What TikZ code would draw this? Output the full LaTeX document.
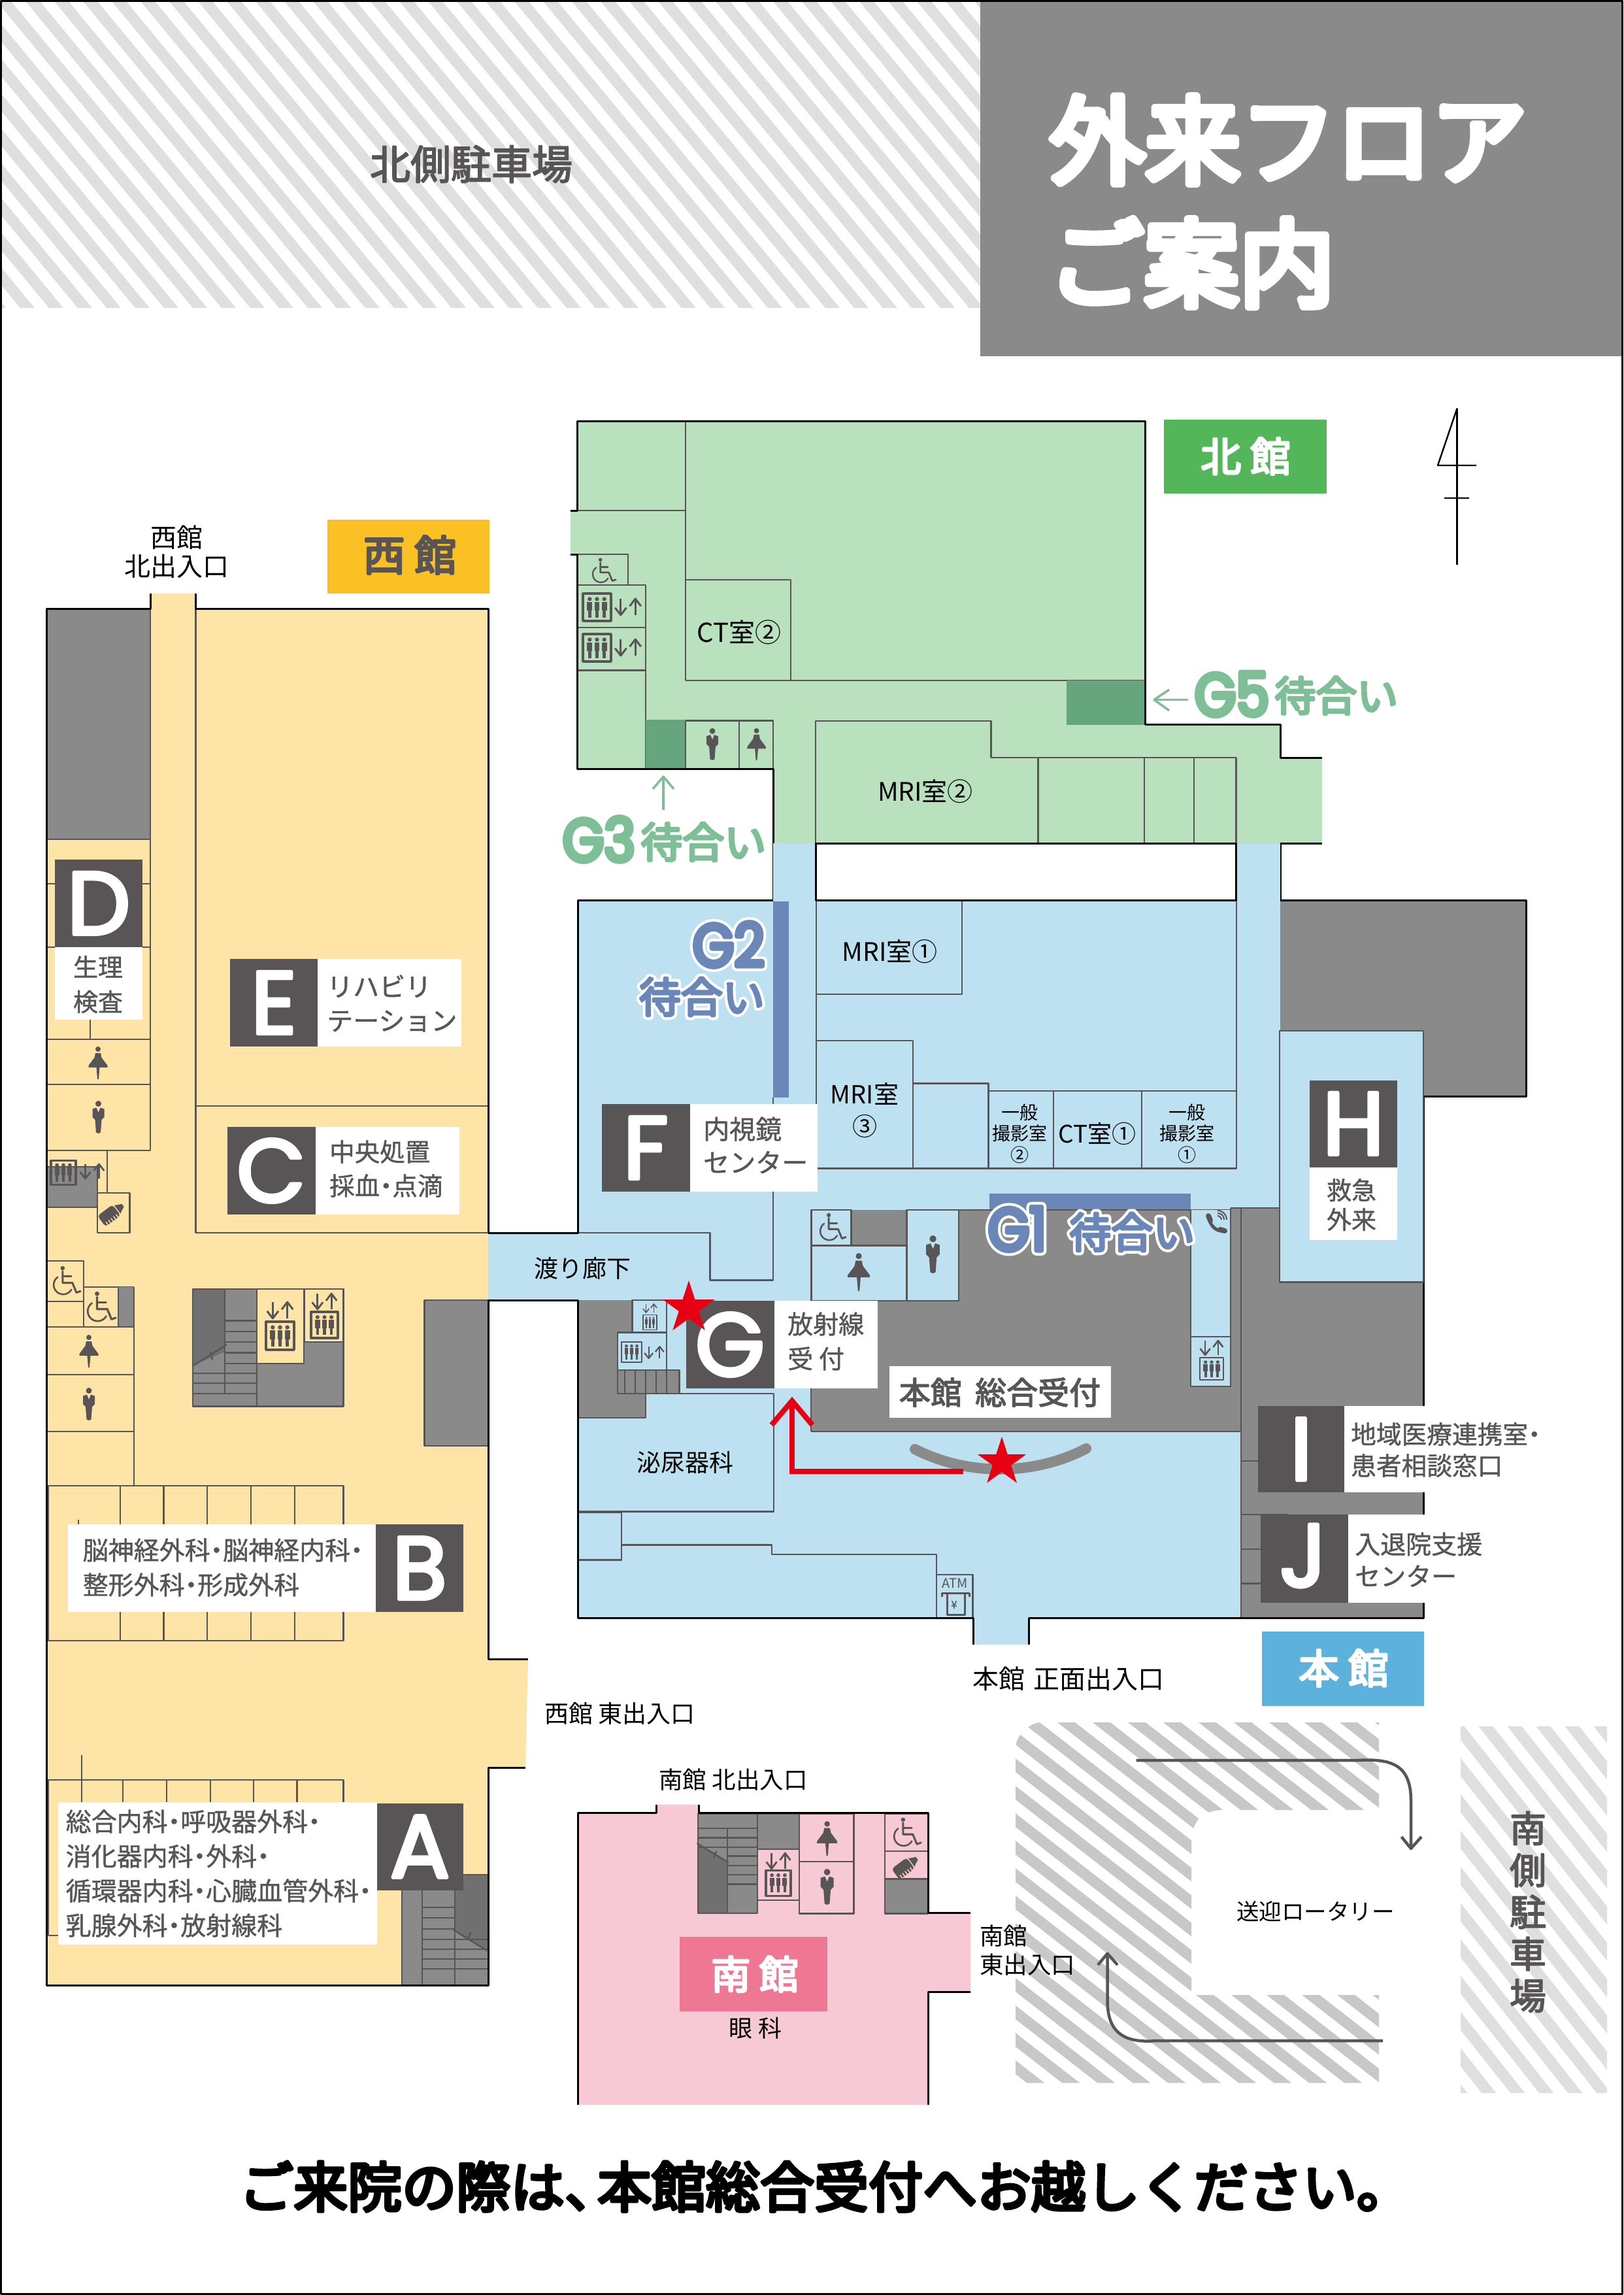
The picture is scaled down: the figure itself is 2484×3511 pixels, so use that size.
\documentclass[tikz,border=0pt]{standalone}
\usepackage{fontspec}
\usetikzlibrary{shapes.geometric}
\setmainfont{Noto Sans CJK JP}
\newfontfamily\jpr{Noto Sans CJK JP}
\newfontfamily\jpm[FakeBold=1]{Noto Sans CJK JP}
\newfontfamily\jpn[FakeBold=3]{Noto Sans CJK JP}
\newfontfamily\jpl[FakeBold=5]{Noto Sans CJK JP}
\newfontfamily\jpw[FakeBold=6]{Noto Sans CJK JP}
\newfontfamily\jpt[FakeBold=8]{Noto Sans CJK JP}
\newfontfamily\jpo[FakeBold=19]{Noto Sans CJK JP}
\newfontfamily\ltr[FakeBold=4]{Poppins}
\newfontfamily\ltrg[FakeBold=8,FakeStretch=.88]{Poppins}
\newfontfamily\ltro[FakeBold=17,FakeStretch=.88]{Poppins}
\newcommand{\fs}[2]{\fontsize{#1}{#2}\selectfont}
\newcommand{\nk}{\kern-.25em ・\kern-.25em }
\definecolor{yel}{HTML}{FEE4A6}
\definecolor{yell}{HTML}{FBC024}
\definecolor{grn}{HTML}{B9E1BD}
\definecolor{grnd}{HTML}{66A67E}
\definecolor{grnl}{HTML}{53B659}
\definecolor{grnt}{HTML}{7FBF97}
\definecolor{blu}{HTML}{BDE1F0}
\definecolor{blud}{HTML}{6A87B8}
\definecolor{blul}{HTML}{5CB2DC}
\definecolor{pnk}{HTML}{F7C9D4}
\definecolor{pnkl}{HTML}{EE7893}
\definecolor{gry}{HTML}{8A8A8A}
\definecolor{gryd}{HTML}{707070}
\definecolor{drk}{HTML}{595556}
\definecolor{hat}{HTML}{C8C8C8}
\definecolor{hatl}{HTML}{DFDFDF}
\definecolor{redm}{HTML}{E60012}
\tikzset{
  wall/.style={draw=black,line width=3},
  room/.style={draw=drk,line width=2.4},
  grayroom/.style={fill=gry,draw=drk,line width=2.4},
  ticon/.style={fill=drk},
  licon/.style={draw=drk,line cap=round},
  tblack/.style={text=black,inner sep=0,align=center},
  tdark/.style={text=drk,inner sep=0,align=left},
  letter/.style={text=white,inner sep=0,font=\ltr\fs{136}{136}},
  redstar/.style={star,star points=5,star point ratio=2.618,fill=redm,inner sep=0},
  darkbox/.style={fill=drk},
  whitebox/.style={fill=white},
}
% stripes: color, x at ytop, width, period, ytop, ybot, dx/dy, kmin, kmax
\newcommand{\stripes}[9]{%
  \foreach \k in {#8,...,#9}{%
    \pgfmathsetmacro{\xa}{#2+\k*#4}%
    \pgfmathsetmacro{\xb}{\xa+#3}%
    \pgfmathsetmacro{\sh}{(#6-#5)*#7}%
    \fill[#1] (\xa,#5)--(\xb,#5)--(\xb+\sh,#6)--(\xa+\sh,#6)--cycle;
  }}
\newcommand{\manicon}[3]{\begin{scope}[shift={(#1,#2)},x=#3pt,y=-#3pt]
  \fill[ticon] (0,.09) circle[radius=.09];
  \fill[ticon] (-.18,.25)--(-.06,.21)--(0,.36)--(.06,.21)--(.18,.25)--(.18,.5)--(.1,.58)--(.07,.97)--(0,1)--(-.07,.97)--(-.1,.58)--(-.18,.5)--cycle;
\end{scope}}
\newcommand{\womanicon}[3]{\begin{scope}[shift={(#1,#2)},x=#3pt,y=-#3pt]
  \fill[ticon] (0,.08) circle[radius=.08];
  \fill[ticon] (-.08,.2)--(.08,.2)--(.11,.34)--(.29,.58)--(.29,.64)--(.05,.64)--(.02,1)--(-.02,1)--(-.05,.64)--(-.29,.64)--(-.29,.58)--(-.11,.34)--cycle;
\end{scope}}
\newcommand{\wheelicon}[3]{\begin{scope}[shift={(#1,#2)},x=#3pt,y=-#3pt]
  \fill[ticon] (.36,.07) circle[radius=.075];
  \draw[licon,line width=#3*.07pt] (.36,.18)--(.36,.58)--(.7,.58)--(.84,.92)--(.98,.87);
  \draw[licon,line width=#3*.07pt] (.36,.36)--(.66,.36);
  \draw[licon,line width=#3*.06pt] (.19,.38) arc[start angle=235,end angle=30,radius=.33];
\end{scope}}
\newcommand{\elevbox}[4]{\begin{scope}[shift={(#1,#2)},x=#3pt,y=-#4pt]
  \draw[draw=drk,line width=#3*.08pt] (0,0) rectangle (1,1);
  \foreach \u in {.24,.5,.76}{
    \fill[ticon] (\u,.2) circle[radius=.075];
    \fill[ticon] (\u-.09,.3) rectangle (\u+.09,.62);
    \fill[ticon] (\u-.055,.62) rectangle (\u+.055,.88);
  }
\end{scope}}
\newcommand{\elevarrows}[4]{\begin{scope}[shift={(#1,#2)},x=#3pt,y=-#4pt]
  \draw[draw=drk,line width=#3*.07pt] (.24,0)--(.24,.95);
  \draw[draw=drk,line width=#3*.07pt] (.04,.55)--(.24,1)--(.44,.55);
  \draw[draw=drk,line width=#3*.07pt] (.76,1)--(.76,.05);
  \draw[draw=drk,line width=#3*.07pt] (.56,.45)--(.76,0)--(.96,.45);
\end{scope}}
\newcommand{\bottleicon}[3]{\begin{scope}[shift={(#1,#2)},x=#3pt,y=-#3pt,rotate=37]
  \fill[ticon,rounded corners=#3*.12pt] (-.52,-.26) rectangle (.2,.26);
  \fill[ticon] (.24,-.2)--(.36,-.13)--(.5,-.07)--(.5,.07)--(.36,.13)--(.24,.2)--cycle;
  \foreach \u in {-.4,-.28,-.16,-.04,.08}{\draw[draw=yel,line width=#3*.035pt] (\u,.27)--(\u,.12);}
\end{scope}}
\begin{document}
\begin{tikzpicture}[x=1pt,y=-1pt,line join=round]
\useasboundingbox (0,0) rectangle (2484,3511);
\fill[white] (0,0) rectangle (2484,3511);
% north parking
\begin{scope}
  \clip (2,2) rectangle (1500,471);
  \stripes{hatl}{919}{22}{44}{2}{471}{.827}{-30}{14}
\end{scope}
\node[text=drk,inner sep=0,font=\jpn\fs{62}{62}] (npark) at (721,251) {北側駐車場};
% title
\fill[gry] (1500,0) rectangle (2484,545);
\node[text=white,inner sep=0,anchor=west,font=\jpt\fs{146}{146}] (title1) at (1606,214) {外来フロア};
\node[text=white,inner sep=0,anchor=west,font=\jpt\fs{146}{146}] (title2) at (1604,402) {ご案内};
% north arrow
\coordinate (na1) at (2229.6,624.6);
\coordinate (na2) at (2229.6,864);
\draw[line width=2.4] (na1)--(na2);
\draw[line width=2.4] (na1)--(2200,712)--(2259,712);
\draw[line width=1.6] (2210,762)--(2248,762);

%%%%%%%% WEST
\fill[yel] (71,931)--(230,931)--(230,908)--(299.5,908)--(299.5,931)--(747,931)--(747,2538)--(808,2538)--(804,2704)--(747,2704)--(747,3037)--(71,3037)--cycle;
\fill[gry] (71,931) rectangle (230,1284);
\draw[room] (71,1284)--(230,1284);
\draw[room] (230,931)--(230,1760)--(71,1760);
\draw[room] (299.5,931)--(299.5,1886)--(747,1886);
\draw[room] (299.5,1692)--(747,1692);
\draw[room] (71,1352)--(230,1352);
\draw[room] (71,1449)--(230,1449);
\draw[room] (71,1590)--(230,1590);
\draw[room] (138,1560)--(138,1590);
\draw[room] (71,1659)--(230,1659);
\womanicon{150}{1601}{50}
\manicon{150.5}{1684}{50}
\draw[room] (164,1760)--(164,1825);
\draw[grayroom] (71,1785) rectangle (149,1847);
\draw[room] (149,1825) rectangle (198.5,1886);
\bottleicon{172}{1856}{40}
\elevbox{78}{1775}{38}{37}
\elevarrows{121}{1781}{40}{22}
% wheelchair and toilets
\draw[room] (71,1929)--(128,1929)--(128,2030);
\draw[room] (71,1991)--(128,1991);
\draw[room] (128,1969)--(205,1969);
\fill[gry] (181,1969) rectangle (205,2030);
\draw[room] (181,1969)--(181,2030);
\draw[room] (205,1969)--(205,2273);
\draw[room] (71,2030)--(205,2030);
\draw[room] (71,2103)--(205,2103);
\draw[room] (71,2190)--(205,2190);
\wheelicon{80}{1937}{44}
\wheelicon{132}{1976}{46}
\womanicon{136}{2042}{50}
\manicon{136}{2123}{50}
% central stairs
\fill[gry] (295,1972) rectangle (525.5,2151.6);
\fill[gryd] (295,1972)--(344,1972)--(344,2068)--(295,2089)--cycle;
\foreach \yy in {2020.5,2037,2053,2069.5,2086,2101,2116,2132}{\draw[room] (344,\yy)--(393,\yy);}
\foreach \yy in {2101,2116,2132}{\draw[room] (295,\yy)--(344,\yy);}
\draw[room] (344,1972)--(344,2132);
\draw[room] (296,2089)--(347,2057);
\draw[room] (322,2068)--(325,2080);
\draw[room] (295,1972) rectangle (525.5,2151.6);
\draw[room] (393,1972)--(393,2151.6);
\draw[room,fill=yel] (393,1972) rectangle (465,2086);
\draw[room,fill=yel] (466,1972) rectangle (525.5,2053);
\elevbox{407}{2022}{43}{43}
\elevarrows{407}{1992}{43}{25}
\elevbox{476}{2007}{41}{40}
\elevarrows{476}{1979}{41}{24}
% east gray
\draw[grayroom] (649.5,1989) rectangle (747,2212);
% B rooms
\draw[room] (73.5,2273) rectangle (525.5,2510);
\foreach \xx in {184,250.5,317,384,451}{\draw[room] (\xx,2273)--(\xx,2510);}
\draw[room] (120,2325)--(120,2340);
% A rooms
\draw[room] (73.5,2961)--(73.5,2723)--(525.5,2723)--(525.5,2760);
\draw[room] (73.5,2961)--(110,2961);
\foreach \xx in {188,255,322,388,454.6}{\draw[room] (\xx,2723)--(\xx,2760);}
\draw[room] (125,2685)--(125,2760);
% A stairs
\fill[gry] (615,2868) rectangle (747,3037);
\fill[gryd] (696,2868)--(747,2868)--(747,2984)--(696,2953)--cycle;
\draw[room] (615,2868)--(747,2868);
\draw[room] (615,2868)--(615,3037);
\foreach \yy in {2918,2934,2951,2967,2982,2997,3012}{\draw[room] (646,\yy)--(696,\yy);}
\foreach \yy in {2967,2982,2997,3012}{\draw[room] (696,\yy)--(747,\yy);}
\draw[room] (646,2868)--(646,3037);
\draw[room] (696,2868)--(696,3037);
\draw[room] (694,2952.6)--(745,2984);
\draw[room] (716,2968)--(720,2956);
% walls
\draw[wall] (747,1886)--(747,931)--(299.5,931)--(299.5,908);
\draw[wall] (230,908)--(230,931)--(71,931)--(71,3037)--(747,3037)--(747,2704)--(804,2704);
\draw[wall] (808,2538)--(747,2538)--(747,1989);
% west texts
\node[tblack,font=\jpr\fs{40}{44}] (wnorth) at (270,844) {西館\\北出入口};
\fill[yell] (500.5,795) rectangle (749,908);
\node[text=drk,inner sep=0,font=\jpl\fs{64}{64}] (wlabel) at (627,849) {西 館};
% D
\fill[darkbox] (84,1315) rectangle (218,1449);
\fill[whitebox] (84,1449) rectangle (218,1560);
\node[letter] (lD) at (151,1382) {D};
\node[tdark,align=center,font=\jpm\fs{38}{53}] (tD) at (150,1506) {生理\\検査};
% E
\fill[darkbox] (351.5,1467) rectangle (486,1601);
\fill[whitebox] (486,1467) rectangle (706,1601);
\node[letter] (lE) at (419,1534) {E};
\node[tdark,anchor=west,font=\jpm\fs{40}{52}] (tE) at (500,1535) {リハビリ\\テーション};
% C
\fill[darkbox] (348,1724) rectangle (483,1858);
\fill[whitebox] (483,1724) rectangle (702.5,1858);
\node[letter] (lC) at (415,1791) {C};
\node[tdark,anchor=west,font=\jpm\fs{38.5}{52}] (tC) at (504,1788) {中央処置\\採血\nk 点滴};
% B
\fill[whitebox] (103.6,2332) rectangle (574.5,2466);
\fill[darkbox] (574.5,2332) rectangle (709,2466);
\node[letter] (lB) at (642,2399) {B};
\node[tdark,anchor=west,font=\jpm\fs{39}{53}] (tB) at (126.5,2398) {脳神経外科\nk 脳神経内科\nk\\整形外科\nk 形成外科};
% A
\fill[whitebox] (89,2757) rectangle (576.5,2975);
\fill[darkbox] (576.5,2758.5) rectangle (709,2892);
\node[letter] (lA) at (642.5,2825) {A};
\node[tdark,anchor=west,font=\jpm\fs{39}{53}] (tA) at (100.5,2866) {総合内科\nk 呼吸器外科\nk\\消化器内科\nk 外科\nk\\循環器内科\nk 心臓血管外科\nk\\乳腺外科\nk 放射線科};
\node[tblack,anchor=west,font=\jpr\fs{37}{44}] (weast) at (833,2621) {西館 東出入口};

%%%%%%%% NORTH
\fill[grn] (883,644)--(1752,644)--(1752,1108)--(1959,1108)--(1959,1159)--(2023,1159)--(2023,1290)--(1183,1290)--(1183,1176)--(883,1176)--(883,848)--(873,848)--(873,781)--(883,781)--cycle;
\draw[room] (1049,644)--(1049,1041);
\draw[room] (873,781)--(1049,781);
\draw[room] (883,848)--(961,848)--(961,895);
\draw[room] (883,895)--(988,895)--(988,1176);
\draw[room] (883,960)--(988,960);
\draw[room] (883,1025.6)--(988,1025.6);
\draw[room] (1049,887)--(1210,887)--(1210,1041);
\draw[room] (1049,1041)--(1752,1041);
\fill[grnd] (1632,1041) rectangle (1752,1109);
\fill[grnd] (988,1101) rectangle (1049,1176);
\draw[room] (1049,1102.6)--(1183,1102.6)--(1183,1176);
\draw[room] (1049,1102.6)--(1049,1176);
\draw[room] (1131,1102.6)--(1131,1176);
\draw[room] (1248,1290)--(1248,1103)--(1516.5,1103)--(1516.5,1159)--(1891.5,1159)--(1891.5,1290);
\foreach \xx in {1588.5,1750.7,1827}{\draw[room] (\xx,1159)--(\xx,1290);}
\wheelicon{905}{853.7}{38}
\elevbox{892}{908}{43}{42}
\elevarrows{939.5}{916}{43}{25}
\elevbox{892}{970}{43}{42}
\elevarrows{939.5}{978}{43}{25}
\manicon{1090}{1114}{49}
\womanicon{1157.6}{1114}{49}
\draw[wall] (873,781)--(883,781)--(883,644)--(1752,644)--(1752,1108)--(1959,1108)--(1959,1159)--(2023,1159);
\draw[wall] (873,848)--(883,848)--(883,1176)--(1183,1176)--(1183,1377);
\draw[wall] (2023,1290)--(1959,1290)--(1959,1377);
\fill[grnl] (1781,642) rectangle (2030,755);
\node[text=white,inner sep=0,font=\jpl\fs{62}{62}] (nlabel) at (1906,698) {北 館};
\node[tblack,font=\jpr\fs{40}{44}] (ct2) at (1131,967) {CT室②};
\node[tblack,font=\jpr\fs{39}{44}] (mri2) at (1416,1211) {MRI室②};
% G5, G3
\coordinate (g5a) at (1818,1070.5);
\coordinate (g5b) at (1766,1070.5);
\draw[draw=grnt,line width=3.5] (g5a)--(g5b);
\draw[draw=grnt,line width=3.5] (1789,1055)--(g5b)--(1789,1087);
\node[text=grnt,inner sep=0,anchor=west,font=\ltrg\fs{92}{92}] (g5t) at (1828,1062) {G5};
\node[text=grnt,inner sep=0,anchor=west,font=\jpw\fs{63}{63}] (g5w) at (1950,1064) {待合い};
\coordinate (g3a) at (1015,1239);
\coordinate (g3b) at (1015,1188);
\draw[draw=grnt,line width=3.5] (g3a)--(g3b);
\draw[draw=grnt,line width=3.5] (999,1207)--(g3b)--(1031,1207);
\node[text=grnt,inner sep=0,anchor=west,font=\ltrg\fs{92}{92}] (g3t) at (861,1284) {G3};
\node[text=grnt,inner sep=0,anchor=west,font=\jpw\fs{64}{64}] (g3w) at (980,1288) {待合い};

%%%%%%%% MAIN
\fill[blu] (884,1377) rectangle (1959,2475);
\fill[blu] (1183,1290) rectangle (1248,1377);
\fill[blu] (1891,1290) rectangle (1959,1377);
\fill[blu] (1489,2475) rectangle (1574,2516);
\fill[blu] (747,1886) rectangle (884,1989);
% NE gray
\fill[gry] (1959,1377) rectangle (2335,1677);
% center gray
\fill[gry] (1241,1851) rectangle (1899,2190);
\fill[gry] (1883,1848) rectangle (2178,2190);
\fill[gry] (1899,2190) rectangle (2178,2475);
\draw[room] (1241,2190)--(1899,2190);
\draw[room] (1241,1989)--(1241,2190);
\draw[room] (1467,1851)--(1883,1851);
\draw[room] (1883,1848)--(1959,1848);
\draw[room] (1899,1848)--(1899,2475);
% toilets
\draw[room,fill=blu] (1241.6,1851) rectangle (1302.6,1905);
\draw[room,fill=blu] (1241.6,1905.4) rectangle (1387.5,1990);
\draw[room,fill=blu] (1387.5,1851) rectangle (1466.8,1990);
\wheelicon{1253}{1856}{42}
\womanicon{1314}{1917}{58}
\manicon{1427.5}{1890}{58}
% G1 corridor
\fill[blu] (1822,1851) rectangle (1883,2121);
\draw[room] (1822,1851)--(1822,2121)--(1883,2121)--(1883,1848);
\draw[room] (1822,2044.7)--(1883,2044.7);
\elevbox{1836}{2077}{36}{34}
\elevarrows{1835}{2051}{38}{22}
% phone
\coordinate (ph1) at (1849.5,1862);
\coordinate (ph2) at (1873,1883);
\draw[draw=drk,line width=5] (ph1) .. controls (1851,1875) and (1862,1885) .. (ph2);
\draw[draw=drk,line width=8,line cap=round] (1849,1860)--(1852,1867);
\draw[draw=drk,line width=8,line cap=round] (1867,1881)--(1874,1883);
\draw[draw=drk,line width=2] (1863,1860) .. controls (1866,1860) and (1869,1863) .. (1869,1866);
\draw[draw=drk,line width=2] (1863,1856) .. controls (1869,1856) and (1873,1860) .. (1873,1866);
\draw[draw=drk,line width=2] (1863,1852) .. controls (1871,1852) and (1877,1858) .. (1877,1866);
% rooms
\draw[room] (1249,1379) -- (1249,1787.6) -- (1892,1787.6) -- (1892,1377);
\draw[room] (1249,1521)--(1471.7,1521)--(1471.7,1379);
\draw[room] (1249,1592)--(1396.7,1592)--(1396.7,1787.6);
\draw[room] (1396.7,1657.5)--(1512.4,1657.5)--(1512.4,1787.6);
\draw[room] (1512.4,1669)--(1892,1669);
\draw[room] (1612,1669)--(1612,1787.6);
\draw[room] (1746.7,1669)--(1746.7,1787.6);
\fill[blud] (1182.7,1379) rectangle (1207,1679);
\fill[blud] (1514,1826) rectangle (1822,1850);
\draw[room] (1182.7,1679)--(1182.7,1958.5)--(1086.6,1958.5)--(1086.6,1886)--(884,1886);
% left gray
\fill[gry] (884,1989) rectangle (988,2169);
\fill[gry] (988,1989) rectangle (1020,2132);
\draw[room] (884,2169)--(988,2169)--(988,2132)--(1184,2132)--(1184,2312.5)--(884,2312.5);
\draw[room,fill=blu] (967.3,1989) rectangle (1020,2038.6);
\draw[room,fill=blu] (945,2038.6) rectangle (1020,2096);
\draw[grayroom] (945,2096) rectangle (1039.6,2132);
\foreach \xx in {956,972,988,1004,1020}{\draw[room] (\xx,2096)--(\xx,2132);}
\elevbox{984}{2011.5}{21}{23}
\elevarrows{983}{1995}{23}{13}
\elevbox{951}{2053}{31}{31}
\elevarrows{985}{2060}{32}{18}
% lower rooms
\draw[room] (884,2314)--(951,2314)--(951,2386.6)--(884,2386.6);
\draw[room] (951,2363.4)--(1181,2363.4)--(1181,2378)--(1433,2378)--(1433,2475);
\draw[room] (1433,2409) rectangle (1488.5,2475);
\node[text=drk,inner sep=0,font=\jpr\fs{20}{20}] (atm) at (1461,2422) {ATM};
\draw[draw=drk,line width=3] (1441,2443)--(1441,2437)--(1483,2437)--(1483,2443);
\draw[draw=drk,line width=3] (1449,2437)--(1449,2470)--(1476,2470)--(1476,2437);
\node[text=drk,inner sep=0,font=\jpm\fs{16}{16}] (yen) at (1460,2455) {¥};
% I/J side lines
\draw[room] (1899,2235)--(1925,2235);
\draw[room] (1899,2317)--(1972,2317);
\draw[room] (1899,2370)--(1929,2370);
\draw[room] (1899,2422.6)--(1929,2422.6);
% walls
\draw[wall] (1183,1377)--(884,1377)--(884,1886)--(747,1886);
\draw[wall] (747,1989)--(884,1989)--(884,2475)--(1489,2475)--(1489,2516);
\draw[wall] (1574,2516)--(1574,2475)--(2178,2475)--(2178,1677)--(2335,1677)--(2335,1377)--(1959,1377);
\draw[wall] (1248,1377)--(1248,1290)--(1891.5,1290)--(1891.5,1377)--cycle;
% H box
\draw[room,fill=blu] (1958,1577) rectangle (2178,1961.6);
\fill[darkbox] (2004,1653) rectangle (2138,1786);
\fill[whitebox] (2004,1786) rectangle (2138,1897);
\node[letter] (lH) at (2071,1719) {H};
\node[tdark,align=center,font=\jpm\fs{38}{45}] (tH) at (2068,1843) {救急\\外来};
% F
\fill[darkbox] (921,1688.6) rectangle (1055.7,1823);
\fill[whitebox] (1055.7,1688.6) rectangle (1251.4,1823);
\node[letter] (lF) at (988,1756) {F};
\node[tdark,anchor=west,font=\jpm\fs{40}{51}] (tF) at (1076,1752) {内視鏡\\センター};
% G
\fill[darkbox] (1050,1989.6) rectangle (1184.8,2124);
\fill[whitebox] (1184.8,1989.6) rectangle (1342.6,2124);
\node[letter] (lG) at (1117,2057) {G};
\node[tdark,anchor=west,font=\jpm\fs{39}{53}] (tG) at (1205,2052) {放射線\\受 付};
\fill[whitebox] (1361,2090) rectangle (1700,2169);
\node[text=drk,inner sep=0,font=\jpn\fs{48}{48}] (tRecep) at (1530,2130) {本館\hspace{.2em} 総合受付};
% I
\fill[whitebox] (2057,2151) rectangle (2365,2283);
\fill[darkbox] (1925,2151) rectangle (2057,2283);
\node[letter] (lI) at (1991,2217) {I};
\node[tdark,anchor=west,font=\jpm\fs{38.7}{48}] (tI) at (2067,2218) {地域医療連携室\nk\\患者相談窓口};
% J
\fill[whitebox] (2062.6,2317) rectangle (2300,2452);
\fill[darkbox] (1929,2317) rectangle (2062.6,2452);
\node[letter] (lJ) at (1994,2380) {J};
\node[tdark,anchor=west,font=\jpm\fs{39}{49}] (tJ) at (2073,2386) {入退院支援\\センター};
% counter and route
\draw[draw=gry,line width=16,line cap=round] (1400,2217) .. controls (1480,2258) and (1582,2258) .. (1662,2216);
\coordinate (rs) at (1474,2251);
\coordinate (rc) at (1212,2251);
\coordinate (rt) at (1212,2143);
\draw[draw=redm,line width=8,line join=miter] (rs)--(rc)--(1212,2146);
\draw[draw=redm,line width=8,line join=miter] (1180.6,2180)--(rt)--(1243,2180);
\node[redstar,minimum size=78] (star1) at (1533,2237) {};
\node[redstar,minimum size=84] (star2) at (1054,2001) {};
% main texts
\node[tblack,font=\jpr\fs{37}{44}] (corr) at (891,1940) {渡り廊下};
\node[tblack,font=\jpr\fs{39}{44}] (mri1) at (1361.6,1456) {MRI室①};
\node[tblack,font=\jpr\fs{38}{49}] (mri3) at (1323,1699) {MRI室\\③};
\node[tblack,font=\jpr\fs{28}{32.5}] (xr2) at (1560,1734) {一般\\撮影室\\②};
\node[tblack,font=\jpr\fs{37}{44}] (ct1) at (1679,1734) {CT室①};
\node[tblack,font=\jpr\fs{28}{32.5}] (xr1) at (1816,1734) {一般\\撮影室\\①};
\node[tblack,font=\jpr\fs{37}{44}] (uro) at (1048,2237) {泌尿器科};
\node[tblack,font=\jpr\fs{40}{44}] (front) at (1635,2568) {本館\hspace{.1em} 正面出入口};
\fill[blul] (1931,2496) rectangle (2179,2610);
\node[text=white,inner sep=0,font=\jpl\fs{62}{62}] (mlabel) at (2056,2552) {本 館};
% G1/G2 outlined
\node[text=white,inner sep=0,anchor=west,font=\ltro\fs{92}{92}] (g1o) at (1512,1880) {G1};
\node[text=white,inner sep=0,anchor=west,font=\jpo\fs{64}{64}] (g1p) at (1636,1885) {待合い};
\node[text=blud,inner sep=0,anchor=west,font=\ltrg\fs{92}{92}] (g1t) at (1512,1880) {G1};
\node[text=blud,inner sep=0,anchor=west,font=\jpw\fs{64}{64}] (g1w) at (1636,1885) {待合い};
\node[text=white,inner sep=0,anchor=east,font=\ltro\fs{92}{92}] (g2o) at (1170,1445) {G2};
\node[text=white,inner sep=0,anchor=east,font=\jpo\fs{64}{64}] (g2p) at (1170,1525) {待合い};
\node[text=blud,inner sep=0,anchor=east,font=\ltrg\fs{92}{92}] (g2t) at (1170,1445) {G2};
\node[text=blud,inner sep=0,anchor=east,font=\jpw\fs{64}{64}] (g2w) at (1170,1525) {待合い};

%%%%%%%% ROTARY
\begin{scope}
  \clip (1594,2635)--(2110,2635)--(2110,2769)--(1873,2769) .. controls (1840,2769) and (1823,2785) .. (1823,2819)--(1823,3052)--(2110,3052)--(2110,3186.5)--(1554,3186.5)--(1554,2675) .. controls (1554,2655) and (1574,2635) .. cycle;
  \stripes{hat}{1618}{27}{54}{2635}{3187}{1.286}{-24}{10}
\end{scope}
\coordinate (ra1) at (1738.5,2693);
\coordinate (ra2) at (2159,2828);
\draw[draw=drk,line width=4.5] (ra1)--(2077,2693) .. controls (2130,2690) and (2159,2700) .. (2159,2755)--(ra2);
\draw[draw=drk,line width=4.5] (2144.5,2810)--(ra2)--(2175,2810);
\coordinate (rb1) at (2116,3122);
\coordinate (rb2) at (1694.5,2988.6);
\draw[draw=drk,line width=4.5] (rb1)--(1770,3122) .. controls (1720,3126) and (1694.5,3110) .. (1694.5,3060)--(rb2);
\draw[draw=drk,line width=4.5] (1680,3006)--(rb2)--(1710,3006);
\node[tblack,font=\jpr\fs{34.5}{40}] (rot) at (2013,2924.5) {送迎ロータリー};
% south parking
\begin{scope}
  \clip (2235,2641) rectangle (2459,3202);
  \stripes{hatl}{2262.5}{22}{44}{2641}{3202}{.793}{-11}{5}
\end{scope}
\node[text=drk,inner sep=0,align=center,font=\jpn\fs{56}{64}] (spark) at (2338,2925) {南\\側\\駐\\車\\場};

%%%%%%%% SOUTH
\fill[pnk] (884,2773.6)--(1004.4,2773.6)--(1004.4,2760.7)--(1069,2760.7)--(1069,2773.6)--(1420.7,2773.6)--(1420.7,2926.4)--(1485,2926.4)--(1485,3047)--(1420.7,3047)--(1420.7,3220)--(884,3220)--cycle;
\fill[gry] (1068,2775) rectangle (1159,2927);
\fill[gryd] (1068,2820)--(1113,2850)--(1113,2927)--(1068,2927)--cycle;
\foreach \yy in {2797,2811.4,2825.7,2839.6,2854,2868,2882.5}{\draw[room] (1113,\yy)--(1159,\yy);}
\foreach \yy in {2797,2811.4,2825.7}{\draw[room] (1068,\yy)--(1113,\yy);}
\draw[room] (1113,2797)--(1113,2927);
\draw[room] (1066.6,2820)--(1115,2849.6);
\draw[room] (1092,2842)--(1096,2832);
\draw[room] (1068,2775) rectangle (1159,2927);
\draw[grayroom] (1159,2775) rectangle (1223,2829);
\draw[room] (1159,2829) rectangle (1223,2907);
\draw[room] (1223,2775) rectangle (1306.4,2848);
\draw[room] (1223,2848) rectangle (1306.4,2927.5);
\draw[room] (1354,2775) rectangle (1419.7,2832);
\draw[room] (1354,2832) rectangle (1419.7,2874.6);
\draw[grayroom] (1354,2874.6) rectangle (1419.7,2927.5);
\elevbox{1172}{2861}{38}{39}
\elevarrows{1171}{2835}{40}{24}
\womanicon{1265.6}{2786}{53}
\manicon{1265.6}{2859}{55}
\wheelicon{1366}{2780.7}{44}
\bottleicon{1387}{2855}{40}
\draw[wall] (884,3220)--(884,2773.6)--(1004.4,2773.6)--(1004.4,2760.7);
\draw[wall] (1069,2760.7)--(1069,2773.6)--(1420.7,2773.6)--(1420.7,2926.4)--(1485,2926.4);
\draw[wall] (1485,3047)--(1420.7,3047)--(1420.7,3220);
\fill[pnkl] (1040,2963) rectangle (1266,3077);
\node[text=white,inner sep=0,font=\jpl\fs{60}{60}] (slabel) at (1155,3020) {南 館};
\node[tblack,font=\jpr\fs{36}{44}] (sdept) at (1156,3102.5) {眼 科};
\node[tblack,font=\jpr\fs{36.5}{44}] (snorth) at (1122,2723) {南館 北出入口};
\node[tblack,align=left,anchor=west,font=\jpr\fs{36.5}{44}] (seast) at (1499,2984) {南館\\東出入口};
% bottom message
\node[text=black,inner sep=0,anchor=west,font=\jpw\fs{83}{83}] (msg) at (366,3345) {ご来院の際は、\kern-.4em 本館総合受付へお越しください。};
% frame
\draw[line width=3] (1.5,1.5) rectangle (2482.5,3509.5);
\end{tikzpicture}
\end{document}
